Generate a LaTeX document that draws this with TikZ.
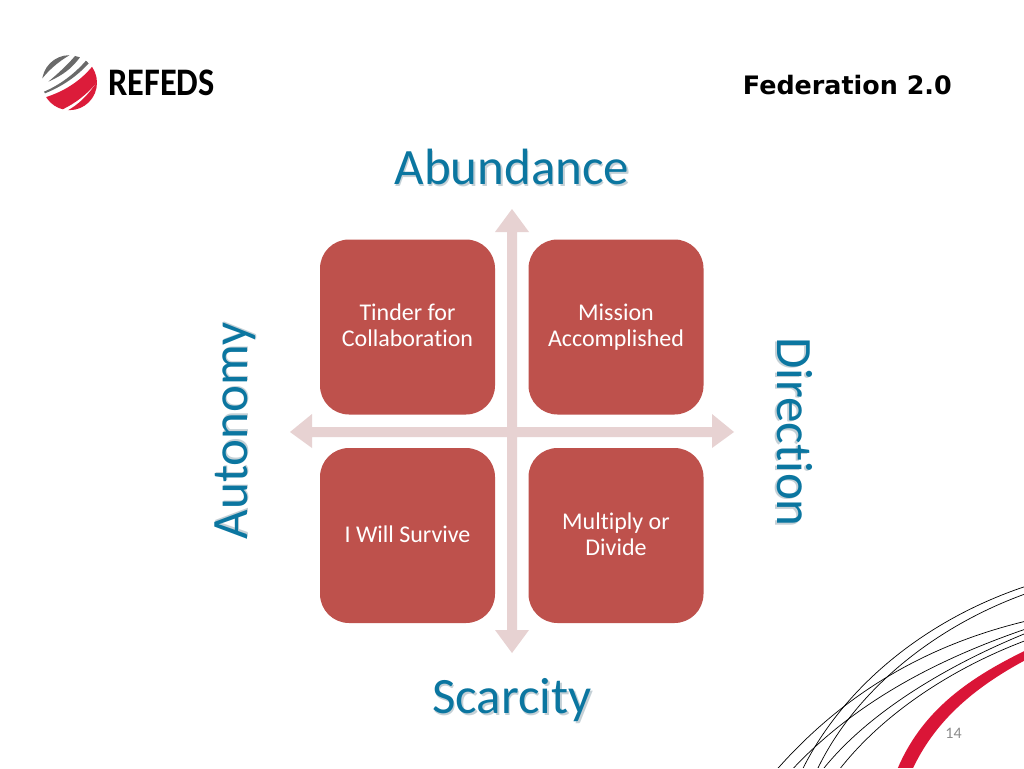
\documentclass[tikz,border=0pt]{standalone}
\usepackage{fontspec}
\setmainfont[Ligatures=NoCommon]{Carlito}
\newfontfamily\dejavu{DejaVu Sans}
\definecolor{boxred}{HTML}{BE514C}
\definecolor{axispink}{HTML}{E7D2D2}
\definecolor{headblue}{HTML}{0B76A0}
\definecolor{headshadow}{HTML}{C4D0D6}
\definecolor{logored}{HTML}{DC1C3A}
\definecolor{logogray}{HTML}{6A6A6A}
\definecolor{swoosh}{HTML}{DA1537}
\newcommand{\shadowed}[1]{\rlap{\hspace{1.4pt}\raisebox{-1.4pt}{\textcolor{headshadow}{#1}}}#1}
\newcommand{\boxline}{\rule[-3.6pt]{0pt}{19pt}}
\tikzset{
  x=1pt,y=-1pt,
  quad/.style={draw=none,fill=boxred,rounded corners=29pt,minimum width=175pt,minimum height=175pt,inner sep=0pt,
    text=white,align=center,font=\fontsize{24}{26}\selectfont},
  head/.style={text=headblue,inner sep=0pt,font=\fontsize{51}{51}\selectfont},
  thinline/.style={draw=black,line width=0.7pt},
}
\begin{document}
\begin{tikzpicture}
\path[use as bounding box,fill=white] (0,0) rectangle (1024,768);
% swooshes
\begin{scope}[shift={(764,570)},x=0.3333pt,y=-0.3333pt]
\clip (-20,-10) rectangle (780,594);
\draw[thinline] (800,44) .. controls (470,150) and (220,370) .. (105,620);
\draw[thinline] (800,66) .. controls (500,170) and (255,380) .. (150,620);
\draw[thinline] (800,150) .. controls (520,215) and (250,350) .. (20,620);
\draw[thinline] (800,172) .. controls (540,260) and (270,390) .. (65,620);
\draw[thinline] (800,184) .. controls (560,280) and (300,430) .. (160,620);
\draw[thinline] (800,206) .. controls (570,290) and (345,435) .. (210,620);
\fill[swoosh] (800,234) .. controls (620,320) and (470,420) .. (395,610) -- (440,610) .. controls (510,450) and (640,345) .. (800,262) -- cycle;
\end{scope}
% logo
\begin{scope}[shift={(30,40)},x=0.3333pt,y=-0.3333pt]
\begin{scope}
\clip (118.5,128) circle (27.5pt);
\fill[logogray] (30,125) .. controls (50,95) and (85,65) .. (118,46) -- (60,30) -- (20,80) -- cycle;
\fill[logogray] (55,125) .. controls (85,100) and (115,72) .. (135,48) -- (150,52) .. controls (125,85) and (100,105) .. (55,125) -- cycle;
\fill[logogray] (42,155) .. controls (90,135) and (135,100) .. (168,62) -- (176,70) .. controls (140,110) and (95,140) .. (45,160) -- cycle;
\fill[logored] (46,172) .. controls (100,155) and (150,125) .. (188,78) -- (215,100) -- (205,122) .. controls (170,165) and (135,190) .. (98,208) -- (60,205) -- cycle;
\fill[logored] (108,214) .. controls (145,195) and (175,165) .. (202,124) -- (215,160) -- (170,225) -- (108,225) -- cycle;
\end{scope}
\end{scope}
\node[anchor=west,inner sep=0pt,font=\bfseries\fontsize{39}{39}\selectfont,xscale=0.88,text=black] (logotext) at (108,83) {REFEDS};
\node[anchor=east,inner sep=0pt,font=\dejavu\bfseries\fontsize{25.4}{25.4}\selectfont,text=black] (title) at (952,85) {Federation 2.0};
% axes
\fill[axispink] (512,209) -- (529,232) -- (517,232) -- (517,427) -- (712,427) -- (712,414) -- (734,432) -- (712,448) -- (712,437) -- (517,437) -- (517,630) -- (529,630) -- (512,653) -- (495,630) -- (507,630) -- (507,437) -- (312,437) -- (312,448) -- (290,432) -- (312,414) -- (312,427) -- (507,427) -- (507,232) -- (495,232) -- cycle;
% boxes
\node[quad] (tl) at (407.5,327) {\boxline Tinder for\\\boxline Collaboration};
\node[quad] (tr) at (616,327) {\boxline Mission\\\boxline Accomplished};
\node[quad] (bl) at (407.5,535.5) {\boxline I Will Survive};
\node[quad] (br) at (616,535.5) {\boxline Multiply or\\\boxline Divide};
% headings
\node[head] (abundance) at (512,168) {\shadowed{Abundance}};
\node[head] (scarcity) at (512,701) {\shadowed{Scarcity}};
\node[head,rotate=90] (autonomy) at (236,431) {\shadowed{Autonomy}};
\node[head,rotate=-90] (direction) at (794,432) {\shadowed{Direction}};
\node[inner sep=0pt,text=black!45,font=\fontsize{16}{16}\selectfont] (pagenum) at (953.5,733) {14};
\end{tikzpicture}
\end{document}
